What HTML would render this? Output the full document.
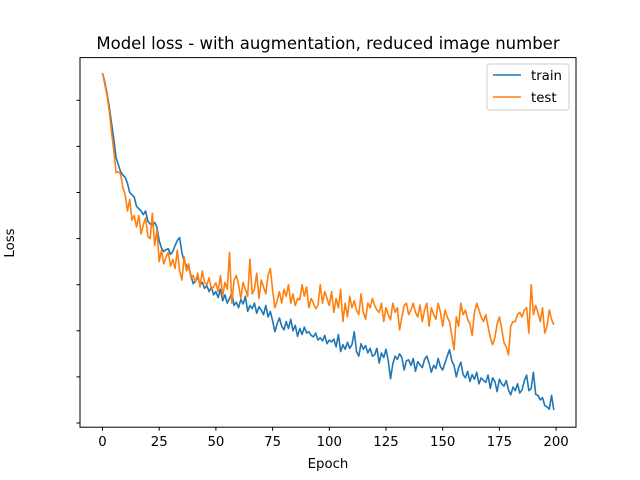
<!DOCTYPE html>
<html><head><meta charset="utf-8"><style>
body{margin:0;background:#fff;}
svg{display:block;font-family:"DejaVu Sans","Liberation Sans",sans-serif;}
</style></head><body>
<svg id="chart" width="640" height="480">
<rect width="640" height="480" fill="#fff"/>
<text x="328" y="49" text-anchor="middle" font-size="16.5">Model loss - with augmentation, reduced image number</text>
<g id="xticks"></g>
<g id="yticks"></g>
<g id="series"></g>
<rect x="80" y="57.6" width="496" height="369.6" fill="none" stroke="#000" stroke-width="1"/>
<text x="328" y="468" text-anchor="middle" font-size="13.3">Epoch</text>
<text transform="translate(14,243) rotate(-90)" text-anchor="middle" font-size="13.3">Loss</text>
<g>
<rect x="487" y="64" width="82" height="46" rx="3" fill="#fff" stroke="#ccc"/>
<line x1="493" y1="75" x2="521" y2="75" stroke="#1f77b4" stroke-width="1.6"/>
<text x="531" y="80" font-size="13.3">train</text>
<line x1="493" y1="97" x2="521" y2="97" stroke="#ff7f0e" stroke-width="1.6"/>
<text x="531" y="102" font-size="13.3">test</text>
</g>
</svg>
<script>
const xTickLabels=[0,25,50,75,100,125,150,175,200];
const yTickValues=[0,1,2,3,4,5,6,7];
const trainLoss=[7.59,7.4,7.15,6.85,6.5,6.15,5.75,5.6,5.45,5.38,5.33,5.2,5.0,4.95,4.9,4.7,4.65,4.6,4.52,4.6,
4.38,4.32,4.28,4.35,4.25,3.95,3.8,3.72,3.76,3.78,3.66,3.72,3.85,3.96,4.02,3.7,3.5,3.42,3.38,3.2,
3.02,3.1,3.15,3.0,3.05,2.92,2.98,2.85,2.95,2.78,2.85,2.72,2.9,2.65,2.78,2.6,2.7,2.82,2.55,2.62,
2.5,2.68,2.58,2.75,2.42,2.55,2.48,2.6,2.38,2.52,2.45,2.35,2.55,2.3,2.42,2.22,1.98,2.15,2.28,2.1,
2.02,2.2,2.05,2.25,2.0,2.12,1.88,2.05,1.92,2.08,1.95,1.98,1.9,1.87,1.95,1.8,1.85,1.78,1.9,1.72,
1.8,1.76,1.82,1.65,1.92,1.55,1.7,1.6,1.75,1.62,1.7,1.98,1.55,1.45,1.72,1.6,1.68,1.52,1.62,1.45,
1.48,1.62,1.3,1.52,1.42,1.6,1.35,0.96,1.28,1.45,1.38,1.5,1.42,1.15,1.35,1.37,1.25,1.4,1.12,1.33,
1.26,1.2,1.38,1.45,1.3,1.1,1.25,1.18,1.4,1.22,1.15,1.3,1.45,1.59,1.35,1.25,1.0,1.2,1.32,1.05,
0.98,1.12,0.9,1.05,0.95,1.1,0.85,0.98,0.92,0.88,1.04,0.75,0.98,0.9,0.68,0.95,0.85,0.8,0.92,0.72,
0.61,0.78,0.7,0.85,0.65,0.72,0.92,1.04,0.7,0.75,1.1,0.62,0.6,0.5,0.55,0.38,0.35,0.3,0.6,0.28];
const testLoss=[7.59,7.35,7.1,6.75,6.3,5.9,5.43,5.45,5.4,5.1,4.95,4.6,4.85,4.4,4.5,4.25,4.5,4.1,4.3,4.45,
4.05,4.0,4.55,3.85,4.2,3.5,3.75,3.45,3.6,3.7,3.4,3.55,3.35,3.75,3.3,3.1,3.6,3.3,3.45,3.15,
3.2,3.05,3.25,2.95,3.3,3.05,3.0,3.15,2.9,2.95,3.04,2.85,3.2,2.75,3.05,2.9,3.7,2.6,3.1,3.2,
3.0,2.7,3.05,2.9,2.75,3.55,2.8,2.9,3.25,2.7,3.1,2.95,2.8,3.2,3.35,2.89,2.5,2.65,2.85,2.6,
2.9,2.75,3.0,2.6,2.8,2.55,2.7,2.67,3.0,2.75,2.95,2.5,2.7,2.6,2.48,2.55,3.0,2.6,2.85,2.7,
2.55,2.85,2.4,2.7,2.5,2.9,2.2,2.6,2.3,2.75,2.5,2.65,2.45,2.35,2.8,2.4,2.25,2.6,2.5,2.7,
2.55,2.45,2.4,2.6,2.2,2.5,2.35,2.24,2.6,2.4,2.5,2.02,2.3,2.55,2.6,2.35,2.45,2.6,2.4,2.3,
2.56,2.2,2.45,2.6,2.1,2.5,2.35,2.25,2.6,2.4,2.1,2.45,2.3,2.2,1.9,1.59,2.3,2.1,2.6,2.35,
2.45,2.25,2.15,1.9,2.4,2.6,2.45,2.3,2.2,2.35,2.1,1.85,1.7,1.85,2.15,2.3,2.05,1.75,1.65,1.48,
2.1,2.2,2.2,2.35,2.4,2.3,2.45,2.5,1.95,3.0,2.35,2.55,2.4,2.2,2.5,1.95,2.1,2.45,2.25,2.13];
const NS='http://www.w3.org/2000/svg';
function xS(e){return 102.5+e*2.268;}
function yS(v){return 423-v*46.1;}
function mk(tag,attrs,parent){const el=document.createElementNS(NS,tag);for(const k in attrs)el.setAttribute(k,attrs[k]);parent.appendChild(el);return el;}
const xg=document.getElementById('xticks');
xTickLabels.forEach(t=>{
  const l=mk('line',{x1:xS(t),x2:xS(t),y1:427.2,y2:430.7,stroke:'#000'},xg);
  
  
  const tx=mk('text',{x:xS(t),y:446,'text-anchor':'middle','font-size':'13.3'},xg);
  tx.textContent=t;
  
  
});
const yg=document.getElementById('yticks');
yTickValues.forEach(v=>{
  const l=mk('line',{x1:76.5,x2:80,y1:yS(v),y2:yS(v),stroke:'#000'},yg);
  
  
});
const sg=document.getElementById('series');
function line(data,color,name){
  const d=data.map((v,i)=>(i?'L':'M')+xS(i).toFixed(2)+','+yS(v).toFixed(2)).join('');
  const p=mk('path',{d:d,fill:'none',stroke:color,'stroke-width':1.6,'stroke-linejoin':'round'},sg);
  
  
}
line(trainLoss,'#1f77b4','train-line');
line(testLoss,'#ff7f0e','test-line');
</script>
</body></html>
